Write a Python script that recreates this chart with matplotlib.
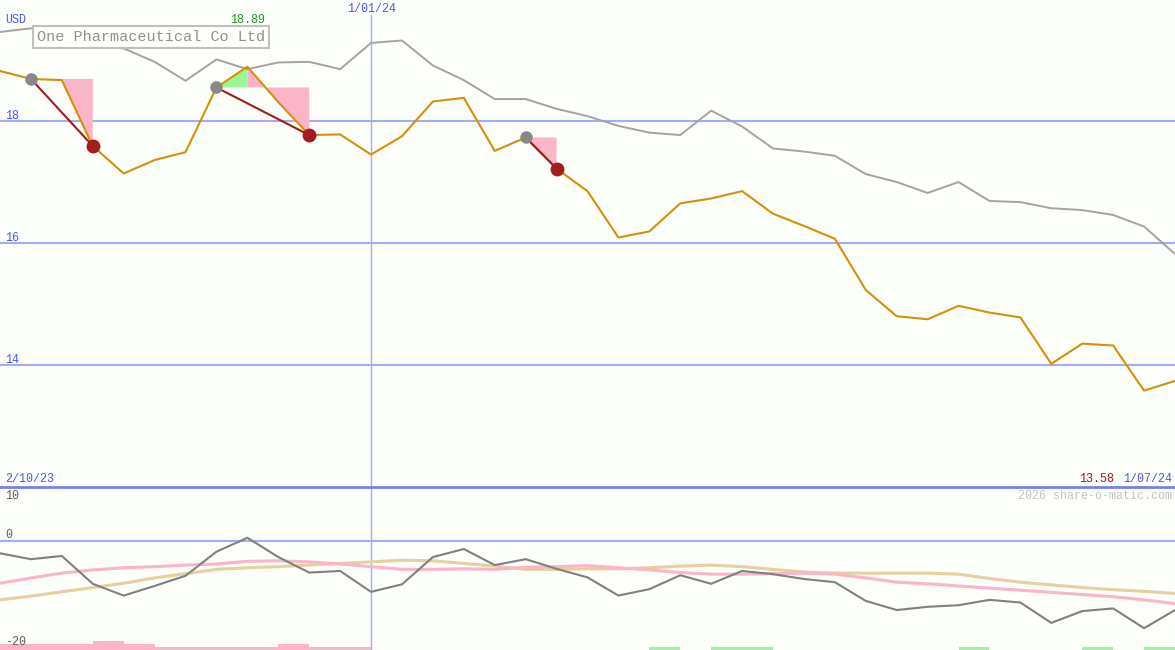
import pandas as pd
import matplotlib.pyplot as plt

# Weekly points shown on the chart (9 Oct 2023 .. 1 Jul 2024)
dates = pd.date_range('2023-10-09', periods=39, freq='7D')

# Share price, USD
price = [18.82, 18.69, 18.67, 17.59, 17.14, 17.36, 17.49, 18.55, 18.89, 18.31,
         17.77, 17.78, 17.45, 17.75, 18.32, 18.38, 17.51, 17.73, 17.22, 16.85,
         16.09, 16.19, 16.65, 16.73, 16.85, 16.48, 16.28, 16.07, 15.23, 14.80,
         14.75, 14.97, 14.86, 14.78, 14.02, 14.35, 14.32, 13.58, 13.74]

# Comparison index, rebased onto the price scale
index_line = [19.46, 19.52, 19.33, 19.23, 19.19, 18.97, 18.66, 19.01, 18.85, 18.96,
              18.97, 18.85, 19.28, 19.32, 18.91, 18.67, 18.36, 18.36, 18.20, 18.08,
              17.92, 17.81, 17.77, 18.17, 17.91, 17.55, 17.50, 17.43, 17.13, 17.00,
              16.82, 17.00, 16.69, 16.67, 16.57, 16.54, 16.46, 16.27, 15.82]

# Lower panel: momentum and its two averages
momentum = [-2.3, -3.4, -2.8, -8.0, -10.2, -8.4, -6.5, -2.0, 0.6, -3.0,
            -5.9, -5.6, -9.5, -8.1, -3.0, -1.5, -4.5, -3.4, -5.2, -6.8,
            -10.2, -9.0, -6.4, -8.0, -5.6, -6.2, -7.1, -7.7, -11.2, -12.9,
            -12.3, -12.0, -11.0, -11.5, -15.3, -13.1, -12.6, -16.3, -12.9]
avg_fast = [-7.9, -6.9, -6.0, -5.4, -5.0, -4.8, -4.5, -4.3, -3.8, -3.7,
            -3.9, -4.3, -4.8, -5.3, -5.3, -5.2, -5.3, -4.9, -4.8, -4.6,
            -5.0, -5.4, -5.9, -6.2, -6.2, -6.1, -6.0, -6.2, -6.9, -7.7,
            -8.0, -8.4, -8.8, -9.2, -9.6, -10.0, -10.4, -11.0, -11.7]
avg_slow = [-11.0, -10.3, -9.5, -8.7, -7.9, -6.9, -6.1, -5.3, -5.0, -4.8,
            -4.5, -4.2, -3.9, -3.6, -3.7, -4.2, -4.7, -5.3, -5.3, -5.2,
            -5.2, -5.0, -4.7, -4.5, -4.8, -5.3, -5.8, -6.0, -6.0, -6.0,
            -6.0, -6.2, -7.0, -7.7, -8.2, -8.7, -9.1, -9.4, -9.8]

# weekly signal bars along the bottom (negative = pink, positive = green)
signal = [-1.1, -1.1, -1.1, -1.7, -1.1, -0.55, -0.55, -0.55, -0.55, -1.1,
          -0.55, -0.55, 0, 0, 0, 0, 0, 0, 0, 0,
          0, 0.55, 0, 0.55, 0.55, 0, 0, 0, 0, 0,
          0, 0.55, 0, 0, 0, 0.55, 0, 0.55]

# trades: entry week, exit week
trade_entry = [1, 7, 17]
trade_exit = [3, 10, 18]

title = 'One Pharmaceutical Co Ltd'
price_ticks = [18, 16, 14]
lower_ticks = [10, 0, -20]
year_mark = pd.Timestamp('2024-01-01')

W, H = 1175, 650
bg = '#fdfffb'
grid_blue = '#a4acf4'
text_blue = '#4a58f0'
mono = 'Liberation Mono'

fig = plt.figure(figsize=(W / 100, H / 100), dpi=100, facecolor=bg)
ax = fig.add_axes([0, 163 / H, 1, 487 / H])
ax2 = fig.add_axes([0, 0, 1, 163 / H])
for a in (ax, ax2):
    a.set_facecolor(bg)
    a.set_xlim(dates[0], dates[-1])
    a.axis('off')

ax.set_ylim(12.0, 19.984)
ax2.set_ylim(-20.37, 10.09)

# grid
for t in price_ticks:
    ax.axhline(t, color=grid_blue, lw=1.5, zorder=1)
ax.axvline(year_mark, ymax=1 - 15 / 487, color=grid_blue, lw=1, zorder=1)
ax2.axvline(year_mark, color=grid_blue, lw=1, zorder=1)
ax2.axhline(0, color=grid_blue, lw=1.5, zorder=1)
fig.add_artist(plt.Line2D([0, 1], [1 - 487 / H, 1 - 487 / H], color='#7482ec', lw=2, zorder=5))

# price lines
ax.plot(dates, index_line, color='#a4a4a4', lw=1.4, zorder=3)

# trade shading
for e, x in zip(trade_entry, trade_exit):
    seg = price[e:x + 1]
    pk = e + seg.index(max(seg))
    lvl = price[e]
    if pk > e:
        xs = list(dates[e:pk + 1]) + [dates[pk]]
        ys = price[e:pk + 1] + [lvl]
        ax.fill(xs, ys, color='#98f898', lw=0, zorder=2)
    xs = list(dates[pk:x + 1]) + [dates[x], dates[pk]]
    ys = price[pk:x + 1] + [lvl, lvl]
    ax.fill(xs, ys, color='#fbb4c8', lw=0, zorder=2)

ax.plot(dates, price, color='#d4900a', lw=1.5, zorder=4)

for e, x in zip(trade_entry, trade_exit):
    ax.plot([dates[e], dates[x]], [price[e], price[x]], color='#a01c1c', lw=1.5, zorder=5)
    ax.plot(dates[e], price[e], 'o', color='#888888', ms=9, mec='none', zorder=6)
    ax.plot(dates[x], price[x], 'o', color='#a41c1c', ms=10, mec='none', zorder=6)

# lower panel
bar_x = dates[:-1]
neg = [-v if v < 0 else 0 for v in signal]
pos = [v if v > 0 else 0 for v in signal]
ax2.bar(bar_x, neg, width=7, align='edge', bottom=-20.37, color='#fbb4c8', lw=0, zorder=2)
ax2.bar(bar_x, pos, width=7, align='edge', bottom=-20.37, color='#98f898', lw=0, zorder=2)
ax2.plot(dates, avg_slow, color='#e6cfa0', lw=2.2, zorder=3)
ax2.plot(dates, avg_fast, color='#fbb4c8', lw=2.2, zorder=3)
ax2.plot(dates, momentum, color='#808080', lw=1.5, zorder=4)


def px_text(x, y, s, color, size=8.4, ha='left', **kw):
    fig.text(x / W, 1 - y / H, s, color=color, fontsize=size, ha=ha, va='center',
             family=mono, **kw)


px_text(5, 20, 'USD', text_blue)
px_text(248, 20, f'{max(price):.2f}', '#22922a', ha='center')
px_text(372, 9, year_mark.strftime('%-d/%m/%y'), text_blue, ha='center')
for t in price_ticks:
    y = 121 + (18 - t) * 61
    px_text(5, y - 5, str(t), text_blue)
px_text(5, 479, '2/10/23', text_blue)
px_text(1097, 479, f'{min(price):.2f}', '#a01818', ha='center')
px_text(1172, 479, dates[-1].strftime('%-d/%m/%y'), text_blue, ha='right')
px_text(1172, 496, '2026 share-o-matic.com', '#c4c4c4', ha='right')
for t, y in zip(lower_ticks, [496, 535, 642]):
    px_text(5, y, str(t), '#606060')

fig.text(37 / W, 1 - 37 / H, title, color='#909090', fontsize=10.9, family=mono,
         ha='left', va='center', zorder=10,
         bbox=dict(boxstyle='square,pad=0.25', fc=bg, ec='#c0c0c0', lw=1.5))

fig.savefig('out.png', dpi=100, facecolor=bg)
